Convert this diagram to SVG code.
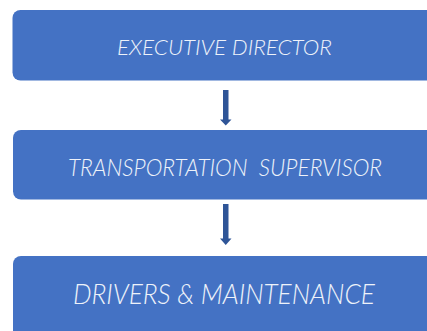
<svg xmlns="http://www.w3.org/2000/svg" width="427" height="331" viewBox="0 0 427 331">
<style>
.box{fill:#4472C4;}
.lbl{font-family:Lato,"Open Sans","Liberation Sans",sans-serif;font-style:italic;font-weight:300;fill:#EEF2FA;text-anchor:start;}
.arr{fill:#2F5597;}
</style>
<rect width="427" height="331" fill="#FFFFFF"/>
<g id="executive-director">
<rect class="box" x="12.5" y="10" width="430" height="70.5" rx="8"/>
<text class="lbl" x="117" y="54.5" font-size="21.5" textLength="215" lengthAdjust="spacingAndGlyphs">EXECUTIVE DIRECTOR</text>
</g>
<g id="transportation-supervisor">
<rect class="box" x="13" y="130" width="430" height="69.5" rx="8"/>
<text class="lbl" x="68" y="176" font-size="23" textLength="314" lengthAdjust="spacingAndGlyphs" xml:space="preserve">TRANSPORTATION  SUPERVISOR</text>
</g>
<g id="drivers-maintenance">
<rect class="box" x="13" y="256" width="430" height="90" rx="8"/>
<text class="lbl" x="73" y="304" font-size="26.5" textLength="302" lengthAdjust="spacingAndGlyphs">DRIVERS &amp; MAINTENANCE</text>
</g>
<g id="connectors">
<path class="arr" d="M223,90 H228.5 V119.5 H231.5 L225.75,125.5 L220,119.5 H223 Z"/>
<path class="arr" d="M223,204 H228.5 V238.5 H231.5 L225.75,245 L220,238.5 H223 Z"/>
</g>
</svg>
